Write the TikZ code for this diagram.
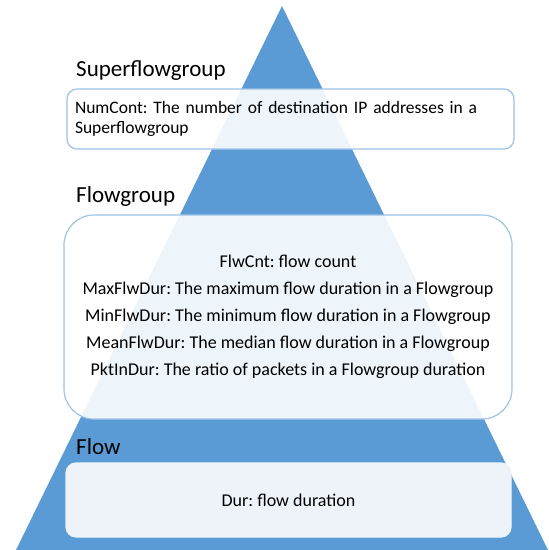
\documentclass[tikz,border=0pt]{standalone}
\usepackage{fontspec}
\setmainfont{Carlito}
\frenchspacing
\definecolor{pyrblue}{HTML}{5B9BD5}
\definecolor{boxline}{HTML}{9DC3E6}
\definecolor{boxfill}{HTML}{EEF3FA}

\begin{document}
\begin{tikzpicture}[x=1pt, y=-1pt,
  level/.style={anchor=west, inner sep=0pt, font=\fontsize{23}{27}\selectfont},
  infobox/.style={draw=boxline, line width=1.2pt, fill=white, fill opacity=0.9,
    text opacity=1, font=\fontsize{18}{20}\selectfont}]

\useasboundingbox (0,0) rectangle (549,550);

% pyramid
\fill[pyrblue] (282,6) -- (548,550) -- (16,550) -- cycle;

% levels
\node[level] (sfglabel) at (76,71) {Superflowgroup};
\node[level] (fglabel) at (76,196) {Flowgroup};
\node[level] (flowlabel) at (76,447) {Flow};

\node[infobox, rounded corners=10pt, minimum width=447pt, minimum height=60pt,
  inner xsep=8pt, text width=431pt, align=left, font=\fontsize{17.5}{20}\selectfont] (sfg) at (290.5,119)
  {NumCont: The number of destination IP addresses in a\\Superflowgroup};

\node[infobox, rounded corners=30pt, minimum width=448pt, minimum height=204pt,
  align=center, font=\fontsize{18}{27}\selectfont] (fg) at (288,317)
  {FlwCnt: flow count\\
   MaxFlwDur: The maximum flow duration in a Flowgroup\\
   MinFlwDur: The minimum flow duration in a Flowgroup\\
   MeanFlwDur: The median flow duration in a Flowgroup\\
   PktInDur: The ratio of packets in a Flowgroup duration};

\node[infobox, draw=boxfill, fill=boxfill, fill opacity=1, rounded corners=10pt,
  minimum width=445pt, minimum height=74pt] (flow) at (288.5,500)
  {Dur: flow duration};

\end{tikzpicture}
\end{document}
